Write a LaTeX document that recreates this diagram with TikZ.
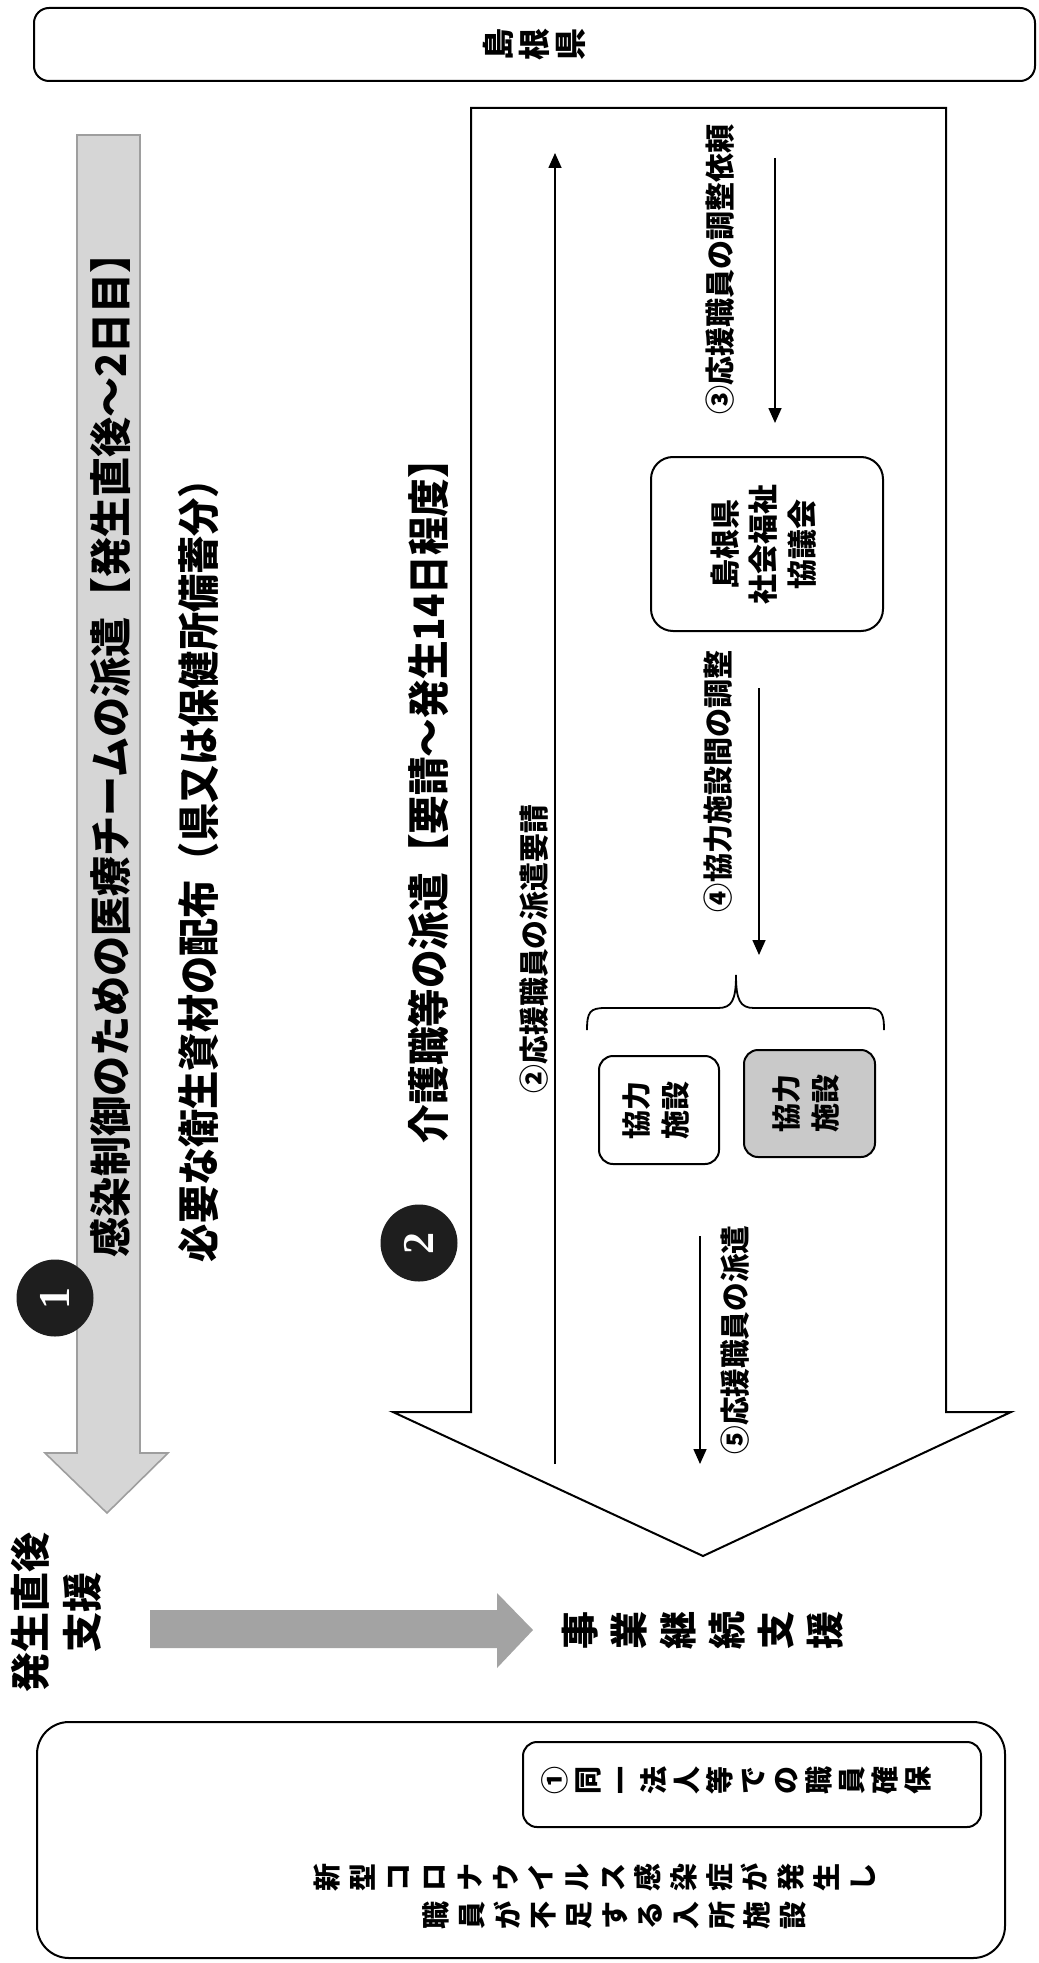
\documentclass[tikz,border=0pt]{standalone}
\usepackage{fontspec}
\setmainfont{Noto Sans CJK JP}
\newfontfamily\numfont{Liberation Serif}
\usepackage{graphicx}
\usetikzlibrary{arrows.meta}
\definecolor{lightarrow}{HTML}{D6D6D6}
\definecolor{arrowedge}{HTML}{9E9E9E}
\definecolor{midarrow}{HTML}{A3A3A3}
\definecolor{boxgray}{HTML}{C9C9C9}
\definecolor{numdark}{HTML}{1E1E1E}
\makeatletter
\newcommand\vchars[2]{\def\vc@gap{#1}\@tfor\vc@c:=#2\do{\rotatebox{90}{\rule[-0.12em]{0pt}{1em}\makebox[1em]{\vc@c}}\kern\vc@gap}\unkern}
\makeatother
\newcommand\fitw[2]{\resizebox{#1}{\height}{#2}}
\begin{document}
\begin{tikzpicture}[x=0.5pt,y=-0.5pt,
  rbox/.style={draw=black, line width=1pt, inner sep=0pt},
  ttl/.style={rotate=90, inner sep=0pt, font=\bfseries\fontsize{21pt}{25pt}\selectfont},
  lbl/.style={rotate=90, inner sep=0pt, font=\bfseries\fontsize{15pt}{18pt}\selectfont},
  flow/.style={line width=0.8pt, -{Triangle[length=7.5pt,width=6.5pt]}},
  num/.style={circle, fill=numdark, text=white, minimum size=38.5pt, inner sep=0pt, rotate=90, font=\numfont\bfseries\fontsize{22pt}{22pt}\selectfont},
  vtxt/.style={inner sep=0pt},
]
\useasboundingbox (0,0) rectangle (1038,1963);
\fill[white] (0,0) rectangle (1038,1963);

% top box
\node[rbox, rounded corners=7.5pt, minimum width=500.5pt, minimum height=36.5pt, font=\bfseries\fontsize{16pt}{16pt}\selectfont] (pref) at (534.5,44.5) {\vchars{2pt}{島根県}};

% gray arrow 1
\draw[fill=lightarrow, draw=arrowedge, line width=0.8pt] (77,135) -- (140,135) -- (140,1453) -- (168,1453) -- (107,1513) -- (45,1453) -- (77,1453) -- cycle;
\node[ttl] (t1) at (110,745) {\fitw{512pt}{感染制御のための医療チームの派遣【発生直後～2日目】}};
\node[num] (n1) at (55,1298) {1};

\node[ttl] (t2) at (199,861) {\fitw{401pt}{必要な衛生資材の配布（県又は保健所備蓄分）}};
\node[ttl] (t3) at (428,791.5) {\fitw{351.5pt}{介護職等の派遣【要請～発生14日程度】}};

% big arrow
\draw[line width=1pt, fill=white] (471,108) -- (946,108) -- (946,1412) -- (1011,1412) -- (703,1556) -- (393,1412) -- (471,1412) -- cycle;
\node[num] (n2) at (419,1243) {2};

% council box
\node[rbox, rounded corners=11pt, minimum width=116pt, minimum height=87pt] (shakyo) at (767,544) {\rotatebox{90}{\fontsize{15pt}{19.25pt}\selectfont\bfseries\begin{tabular}{@{}c@{}}島根県\\社会福祉\\協議会\end{tabular}}};

% facilities
\node[rbox, rounded corners=7pt, minimum width=60pt, minimum height=54pt] (fac1) at (659,1110) {\rotatebox{90}{\fontsize{14.5pt}{19.5pt}\selectfont\bfseries\begin{tabular}{@{}c@{}}協力\\施設\end{tabular}}};
\node[rbox, fill=boxgray, rounded corners=7pt, minimum width=65.5pt, minimum height=53.5pt] (fac2) at (809.5,1103.5) {\rotatebox{90}{\fontsize{14.5pt}{19.5pt}\selectfont\bfseries\begin{tabular}{@{}c@{}}協力\\施設\end{tabular}}};

% brace
\draw[line width=0.9pt] (587,1030) .. controls (587,1012) and (590,1008) .. (605,1008) -- (718,1008) .. controls (732,1008) and (736,1000) .. (736,975) .. controls (736,1000) and (740,1008) .. (754,1008) -- (866,1008) .. controls (881,1008) and (884,1012) .. (884,1030);

% labels
\node[lbl] (l2) at (534,949) {\fitw{144pt}{②応援職員の派遣要請}};
\node[lbl] (l3) at (720,270) {\fitw{145pt}{③応援職員の調整依頼}};
\node[lbl] (l4) at (718,781) {\fitw{131pt}{④協力施設間の調整}};
\node[lbl] (l5) at (735,1340) {\fitw{114.5pt}{⑤応援職員の派遣}};

% flow arrows
\coordinate (a2s) at (555,1464); \coordinate (a2e) at (555,153);
\coordinate (a3s) at (775,158);  \coordinate (a3e) at (775,423);
\coordinate (a4s) at (759,688);  \coordinate (a4e) at (759,955);
\coordinate (a5s) at (700,1236); \coordinate (a5e) at (700,1464);
\draw[flow] (a2s) -- (a2e);
\draw[flow] (a3s) -- (a3e);
\draw[flow] (a4s) -- (a4e);
\draw[flow] (a5s) -- (a5e);

% bottom left
\node[rotate=90, align=center, inner sep=0pt, font=\bfseries\fontsize{20pt}{26pt}\selectfont] (early) at (56,1612) {発生直後\\支援};
\fill[midarrow] (150,1610) -- (497,1610) -- (497,1593) -- (533,1630) -- (497,1668) -- (497,1648) -- (150,1648) -- cycle;
\node[vtxt, font=\bfseries\fontsize{19pt}{19pt}\selectfont] (bcp) at (703,1630) {\vchars{5.5pt}{事業継続支援}};

% bottom box
\node[rbox, rounded corners=16pt, minimum width=484pt, minimum height=118pt] (facility) at (521,1840) {};
\node[rbox, rounded corners=7pt, minimum width=229pt, minimum height=42.5pt] (own) at (752,1784.5) {};
\node[vtxt, font=\bfseries\fontsize{14pt}{14pt}\selectfont] (ownt) at (736,1780) {\vchars{2.5pt}{①同一法人等での職員確保}};
\node[vtxt, font=\bfseries\fontsize{14pt}{14pt}\selectfont] (fl1) at (594.7,1877) {\vchars{3.85pt}{新型コロナウイルス感染症が発生し}};
\node[vtxt, font=\bfseries\fontsize{14pt}{14pt}\selectfont] (fl2) at (614.5,1915) {\vchars{3.85pt}{職員が不足する入所施設}};
\end{tikzpicture}
\end{document}
